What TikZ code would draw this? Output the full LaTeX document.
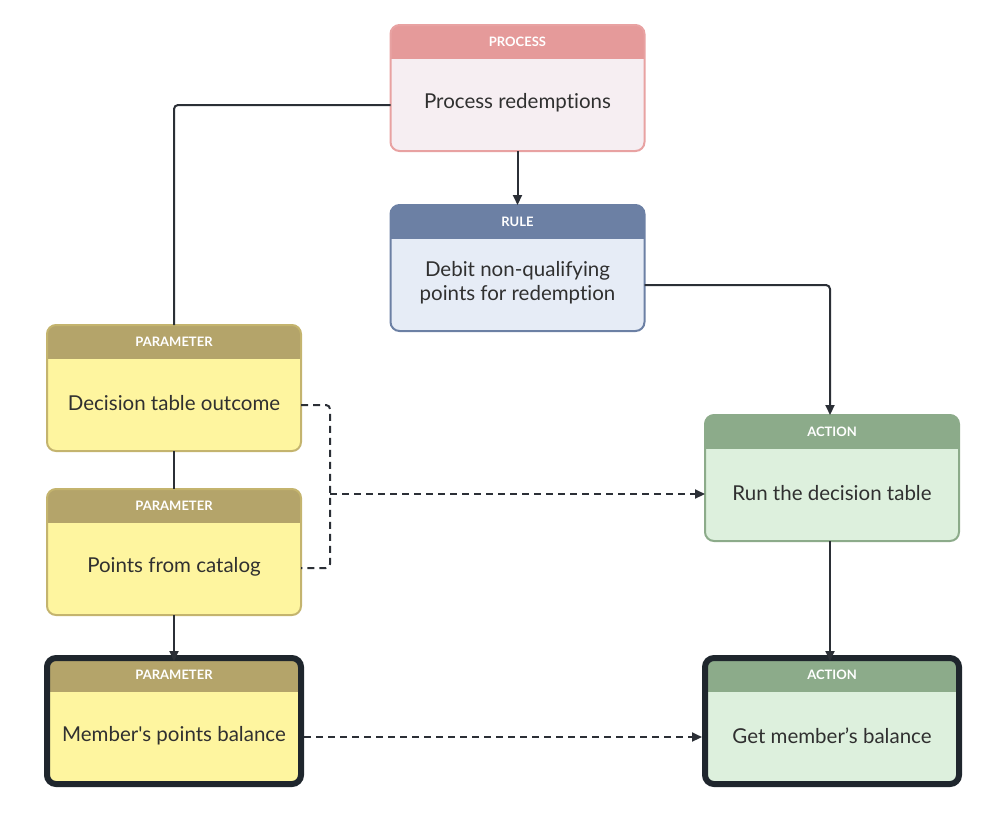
\documentclass[tikz,border=0pt]{standalone}
\usepackage{fontspec}
\setmainfont{Lato}[Ligatures={TeXOff,NoCommon}]
\usetikzlibrary{arrows.meta}
\definecolor{prochead}{HTML}{E59A9A}
\definecolor{procbody}{HTML}{F6EEF2}
\definecolor{procline}{HTML}{E8A2A2}
\definecolor{rulehead}{HTML}{6C80A4}
\definecolor{rulebody}{HTML}{E6ECF6}
\definecolor{ruleline}{HTML}{6C80A4}
\definecolor{parhead}{HTML}{B4A46A}
\definecolor{parbody}{HTML}{FEF59F}
\definecolor{parline}{HTML}{C4B46E}
\definecolor{acthead}{HTML}{8CAB8A}
\definecolor{actbody}{HTML}{DDF0DD}
\definecolor{actline}{HTML}{8CAB8A}
\definecolor{darkline}{HTML}{1F262D}
\definecolor{txt}{HTML}{303030}
\definecolor{conn}{HTML}{2B2F36}
\tikzset{
  box/.style={rectangle, rounded corners=9pt, minimum width=254pt, minimum height=126pt, inner sep=0pt, outer sep=0pt},
  hdrtext/.style={font=\fontsize{13}{15}\selectfont\bfseries, text=white, inner sep=0pt},
  bodytext/.style={font=\fontsize{20.5}{24}\selectfont, text=txt, align=center, inner sep=0pt},
  link/.style={draw=conn, line width=2pt, rounded corners=4pt},
  arr/.style={-{Triangle[length=10pt,width=9pt]}},
  dashlink/.style={draw=conn, line width=2pt, dash pattern=on 7pt off 5pt, rounded corners=4pt},
}
% #1 name, #2 position, #3 kind, #4 header, #5 body text, #6 border style
\newcommand{\dgbox}[6]{%
  \node[box, fill=#3body] (#1) at (#2) {};
  \begin{scope}
    \clip[rounded corners=9pt] (#1.north west) rectangle (#1.south east);
    \fill[#3head] (#1.north west) rectangle ([yshift=-34pt]#1.north east);
  \end{scope}
  \draw[rounded corners=9pt, #6] (#1.north west) rectangle (#1.south east);
  \node[hdrtext] (#1-h) at ([yshift=-17pt]#1.north) {#4};
  \node[bodytext] (#1-t) at ([yshift=-15pt]#1.center) {#5};
}
\begin{document}
\begin{tikzpicture}[x=1pt,y=-1pt]
\useasboundingbox (0,0) rectangle (1000,815);
\dgbox{proc}{517.5,88}{proc}{PROCESS}{Process redemptions}{draw=procline, line width=2pt}
\dgbox{rule}{517.5,268}{rule}{RULE}{Debit non-qualifying\\points for redemption}{draw=ruleline, line width=2pt}
\dgbox{par1}{174,388}{par}{PARAMETER}{Decision table outcome}{draw=parline, line width=2pt}
\dgbox{par2}{174,552}{par}{PARAMETER}{Points from catalog}{draw=parline, line width=2pt}
\dgbox{par3}{174,721}{par}{PARAMETER}{Member's points balance}{draw=darkline, line width=6pt}
\dgbox{act1}{832,478}{act}{ACTION}{Run the decision table}{draw=actline, line width=2pt}
\dgbox{act2}{832,721}{act}{ACTION}{Get member’s balance}{draw=darkline, line width=6pt}

\coordinate (j) at (330,494);

\draw[link] ([yshift=-17pt]proc.west) -| (par1.north);
\draw[link, arr] (proc.south) -- (rule.north);
\draw[link, arr] ([yshift=-17pt]rule.east) -| ([xshift=-2pt]act1.north);
\draw[link] (par1.south) -- (par2.north);
\draw[link, arr] (par2.south) -- ([yshift=-3pt]par3.north);
\draw[link, arr] ([xshift=-2pt]act1.south) -- ([xshift=-2pt,yshift=-3pt]act2.north);
\draw[dashlink] ([yshift=-17pt]par1.east) -| (j) |- ([yshift=-16pt]par2.east);
\draw[dashlink, arr] (j) -- (j -| act1.west);
\draw[dashlink, arr] ([xshift=3pt,yshift=-16pt]par3.east) -- ([xshift=-3pt,yshift=-16pt]act2.west);
\end{tikzpicture}
\end{document}
